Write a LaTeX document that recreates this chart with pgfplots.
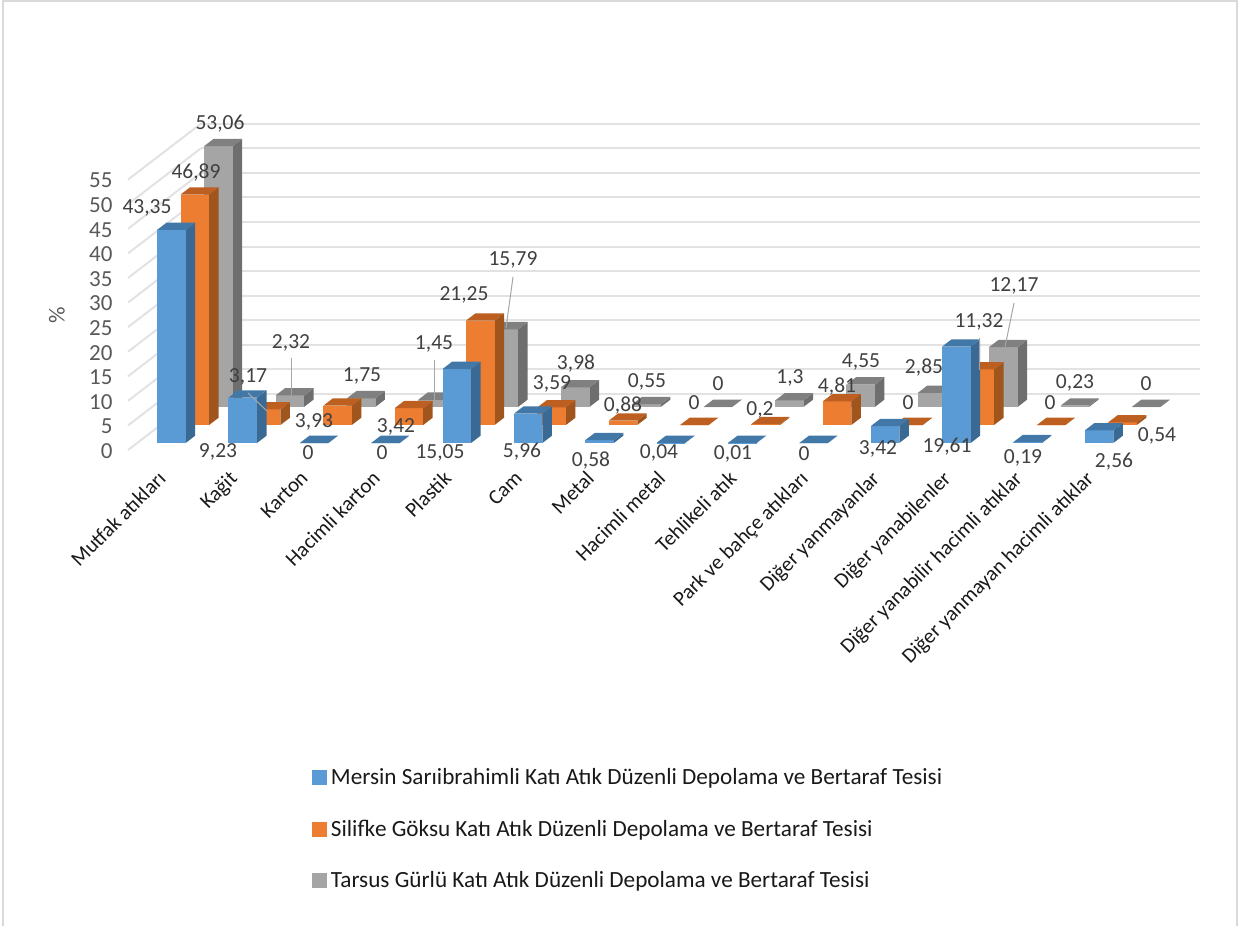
\documentclass[border=0pt]{standalone}
\usepackage{fontspec}
\setmainfont{Carlito}
\usepackage{pgfplots}
\usepackage{pgfplotstable}
\pgfplotsset{compat=1.18}

\definecolor{bluefront}{HTML}{5B9BD5}
\definecolor{bluetop}{HTML}{4178A8}
\definecolor{blueside}{HTML}{3A6A94}
\definecolor{orangefront}{HTML}{ED7D31}
\definecolor{orangetop}{HTML}{BC5F20}
\definecolor{orangeside}{HTML}{A0551C}
\definecolor{grayfront}{HTML}{A5A5A5}
\definecolor{graytop}{HTML}{808080}
\definecolor{grayside}{HTML}{6E6E6E}
\definecolor{gridc}{HTML}{E2E2E2}
\definecolor{framec}{HTML}{D9D9D9}
\definecolor{leader}{HTML}{A6A6A6}

% Waste composition (%) per facility, one row per category
\pgfplotstableread{
mersin silifke tarsus
43.35 46.89 53.06
9.23  3.17  2.32
0     3.93  1.75
0     3.42  1.45
15.05 21.25 15.79
5.96  3.59  3.98
0.58  0.88  0.55
0.04  0     0
0.01  0.2   1.3
0     4.81  4.55
3.42  0     2.85
19.61 11.32 12.17
0.19  0     0.23
2.56  0.54  0
}\wastedata

% One 3D column: category index, depth position, value, colour prefix
\newcommand{\column}[4]{%
  \pgfmathsetmacro\xa{#1+0.28}%
  \pgfmathsetmacro\xb{#1+0.68}%
  \pgfmathsetmacro\ya{#2}%
  \pgfmathsetmacro\yb{#2+0.13}%
  \edef\faces{%
    \noexpand\addplot3[forget plot,no marks,draw=none,fill=#4side] coordinates
      {(\xb,\ya,0)(\xb,\yb,0)(\xb,\yb,#3)(\xb,\ya,#3)};
    \noexpand\addplot3[forget plot,no marks,draw=none,fill=#4front] coordinates
      {(\xa,\ya,0)(\xb,\ya,0)(\xb,\ya,#3)(\xa,\ya,#3)};
    \noexpand\addplot3[forget plot,no marks,draw=none,fill=#4top] coordinates
      {(\xa,\ya,#3)(\xb,\ya,#3)(\xb,\yb,#3)(\xa,\yb,#3)};
  }%
  \faces
}
% One row of columns, drawn from right to left
\newcommand{\columnrow}[3]{%
  \foreach \i in {13,12,...,0}{%
    \pgfplotstablegetelem{\i}{#1}\of\wastedata
    \edef\val{\pgfplotsretval}%
    \column{\i}{#2}{\val}{#3}%
  }%
}
% Text placed on the page grid
\newcommand{\lab}[3]{\node[dl] at (#1,#2) {#3};}
\newcommand{\lead}[4]{\draw[leader,line width=1pt] (#1,#2) -- (#3,#4);}

\begin{document}
\begin{tikzpicture}[x=1pt,y=1pt]
\path[use as bounding box] (0,0) rectangle (1252,926);
\draw[framec,line width=1.5pt] (3,0) -- (3,925) -- (1237,925) -- (1237,0);
\begin{axis}[
  at={(128pt,476pt)}, anchor=origin,
  x={(71.36pt,0pt)}, y={(73pt,56pt)}, z={(0pt,4.915pt)},
  xmin=0, xmax=14, ymin=0, ymax=1, zmin=0, zmax=55,
  clip=false,
  axis line style={draw=none},
  tick style={draw=none},
  ytick=\empty,
  ztick={0,5,...,55},
  zmajorgrids=true,
  major grid style={gridc,line width=2pt},
  ztick pos=left,
  zticklabel pos=left,
  /pgf/number format/assume math mode=true,
  ticklabel style={font=\fontsize{23}{26}\selectfont,text=black!65},
  z tick label style={anchor=east,xshift=-12pt,yshift=-1pt},
  xtick={0.5,1.5,...,13.5},
  xticklabels={Mutfak atıkları,Kağit,Karton,Hacimli karton,Plastik,Cam,Metal,Hacimli metal,Tehlikeli atık,Park ve bahçe atıkları,Diğer yanmayanlar,Diğer yanabilenler,Diğer yanabilir hacimli atıklar,Diğer yanmayan hacimli atıklar},
  x tick label style={rotate=45,anchor=north east,font=\fontsize{21}{24}\selectfont,text=black!90,xshift=-15.3pt,yshift=-5.5pt},
  legend cell align=left,
  legend style={draw=none,fill=none,at={(axis description cs:0.171,-0.969)},anchor=north west,
    font=\fontsize{23.2}{26}\selectfont,text=black!90,row sep=30pt,column sep=3pt,inner sep=0pt},
  legend image code/.code={\fill[#1] (0pt,-7pt) rectangle (14pt,7pt);},
]
\columnrow{tarsus}{0.77}{gray}
\columnrow{silifke}{0.446}{orange}
\columnrow{mersin}{0.125}{blue}
\addlegendimage{bluefront}
\addlegendentry{Mersin Sarıibrahimli Katı Atık Düzenli Depolama ve Bertaraf Tesisi}
\addlegendimage{orangefront}
\addlegendentry{Silifke Göksu Katı Atık Düzenli Depolama ve Bertaraf Tesisi}
\addlegendimage{grayfront}
\addlegendentry{Tarsus Gürlü Katı Atık Düzenli Depolama ve Bertaraf Tesisi}
\end{axis}
\begin{scope}[x=1pt,y=-1pt,yshift=926pt,
  dl/.style={text=black!75,font=\fontsize{21.5}{24}\selectfont,inner sep=0pt}]
\node[rotate=90,text=black!65,font=\fontsize{23}{26}\selectfont] at (57,315) {\%};
% Series 1
\lab{147}{208}{43,35}\lab{218}{452}{9,23}\lab{308}{453}{0}\lab{382}{453}{0}
\lab{440}{453}{15,05}\lab{522}{452}{5,96}\lab{591}{461}{0,58}\lab{659}{453}{0,04}
\lab{733}{454}{0,01}\lab{804}{454}{0}\lab{878}{449}{3,42}\lab{947}{447}{19,61}
\lab{1023}{458}{0,19}\lab{1114}{462}{2,56}
% Series 2
\lab{196}{173}{46,89}\lab{248}{377}{3,17}\lab{314}{422}{3,93}\lab{396}{427}{3,42}
\lab{464}{295}{21,25}\lab{552}{384}{3,59}\lab{623}{406}{0,88}\lab{694}{403}{0}
\lab{760}{410}{0,2}\lab{837}{387}{4,81}\lab{908}{403}{0}\lab{979}{322}{11,32}
\lab{1050}{403}{0}\lab{1157}{436}{0,54}
% Series 3
\lab{220}{124}{53,06}\lab{291}{343}{2,32}\lab{362}{376}{1,75}\lab{434}{344}{1,45}
\lab{513}{260}{15,79}\lab{576}{364}{3,98}\lab{647}{382}{0,55}\lab{718}{384}{0}
\lab{790}{378}{1,3}\lab{861}{362}{4,55}\lab{924}{368}{2,85}\lab{1014}{286}{12,17}
\lab{1075}{383}{0,23}\lab{1146}{384}{0}
% Leader lines of displaced labels
\lead{248}{393}{267}{411}
\lead{291}{358}{291}{397}
\lead{434}{360}{434}{403}
\lead{513}{277}{506}{328}
\lead{979}{338}{979}{370}
\lead{1014}{303}{1005}{347}
\end{scope}
\end{tikzpicture}
\end{document}
